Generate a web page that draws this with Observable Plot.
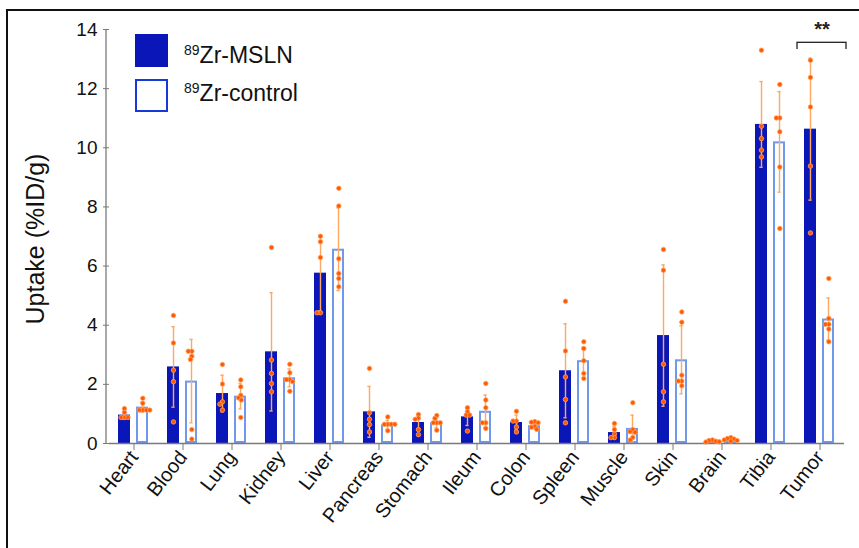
<!DOCTYPE html>
<html><head><meta charset="utf-8">
<script src="https://cdn.jsdelivr.net/npm/d3@7"></script>
<script src="https://cdn.jsdelivr.net/npm/@observablehq/plot@0.6"></script>
<style>
body{margin:0;background:#fff;font-family:"Liberation Sans",Arial,sans-serif;}
#wrap{position:relative;width:859px;height:548px;overflow:hidden;background:#fff;}
#chart{position:absolute;left:0;top:0;}
.bl{position:absolute;left:6px;top:9px;width:2px;height:560px;background:#111;}
.bt{position:absolute;left:6px;top:9px;width:870px;height:2px;background:#111;}
#ylab{position:absolute;left:35px;top:239px;transform:translate(-50%,-50%) rotate(-90deg);font-size:25px;white-space:nowrap;color:#111;}
.sw{position:absolute;left:135px;width:33px;height:33px;box-sizing:border-box;}
.lt{position:absolute;left:184px;font-size:23px;line-height:1;white-space:nowrap;color:#111;}
.lt sup{font-size:14px;vertical-align:0.55em;line-height:0;}
</style></head><body>
<div id="wrap">
  <div id="chart"></div>
  <div class="bl"></div><div class="bt"></div>
  <div id="ylab">Uptake (%ID/g)</div>
  <div class="sw" style="top:34px;background:#0a16b8;"></div>
  <div class="sw" style="top:79px;background:#fff;border:2px solid #1a38d8;"></div>
  <div class="lt" style="top:44px;"><sup>89</sup>Zr-MSLN</div>
  <div class="lt" style="top:82px;"><sup>89</sup>Zr-control</div>
</div>
<script>
// ---- data ----
const organs = ["Heart","Blood","Lung","Kidney","Liver","Pancreas","Stomach","Ileum","Colon","Spleen","Muscle","Skin","Brain","Tibia","Tumor"];
const series = ["89Zr-MSLN","89Zr-control"];
const mslnMean = [0.96, 2.59, 1.69, 3.10, 5.76, 1.07, 0.71, 0.90, 0.71, 2.46, 0.37, 3.65, 0.08, 10.79, 10.63];
const mslnSd   = [0.14, 1.36, 0.62, 2.00, 1.27, 0.86, 0.25, 0.29, 0.25, 1.59, 0.20, 2.39, 0.03, 1.45, 2.40];
const ctrlMean = [1.23, 2.11, 1.60, 2.22, 6.57, 0.63, 0.70, 1.09, 0.60, 2.80, 0.51, 2.83, 0.13, 10.20, 4.21];
const ctrlSd   = [0.17, 1.41, 0.43, 0.30, 1.40, 0.15, 0.17, 0.55, 0.10, 0.45, 0.45, 1.15, 0.04, 1.70, 0.71];
const mslnDots = [
  [1.18, 1.05, 0.88, 0.88, 0.88],
  [4.33, 3.40, 2.48, 2.09, 0.73],
  [2.67, 2.01, 1.41, 1.33, 1.13],
  [6.63, 2.82, 2.37, 2.03, 1.75],
  [7.01, 6.82, 6.29, 4.42, 4.42],
  [2.54, 1.04, 0.82, 0.64, 0.39],
  [0.98, 0.86, 0.82, 0.47, 0.30],
  [1.21, 1.07, 0.96, 0.96, 0.42],
  [1.09, 0.76, 0.76, 0.56, 0.39],
  [4.81, 3.13, 2.25, 1.49, 0.70],
  [0.68, 0.47, 0.32, 0.20, 0.20],
  [6.56, 5.86, 2.68, 1.75, 1.41],
  [0.12, 0.10, 0.08, 0.06, 0.05],
  [13.30, 10.73, 10.31, 9.92, 9.69],
  [12.96, 12.38, 11.38, 9.38, 7.12]
];
const ctrlDots = [
  [1.53, 1.36, 1.13, 1.13, 1.13, 1.13],
  [3.12, 3.12, 2.95, 2.84, 0.47, 0.15],
  [2.15, 1.92, 1.63, 1.54, 1.47, 0.88],
  [2.68, 2.39, 2.16, 2.16, 2.09, 1.77],
  [8.63, 8.03, 6.25, 5.75, 5.58, 5.30],
  [0.90, 0.65, 0.65, 0.65, 0.65, 0.43],
  [0.95, 0.85, 0.70, 0.70, 0.70, 0.45],
  [2.03, 1.47, 1.21, 0.70, 0.70, 0.51],
  [0.74, 0.72, 0.70, 0.58, 0.55, 0.48],
  [3.44, 3.21, 2.80, 2.37, 2.20],
  [1.38, 0.47, 0.40, 0.38, 0.20, 0.12],
  [4.45, 4.10, 2.31, 2.11, 2.11, 1.95],
  [0.20, 0.17, 0.15, 0.12, 0.10, 0.08],
  [12.14, 11.01, 11.01, 10.54, 9.35, 7.27],
  [5.58, 4.23, 4.03, 4.03, 3.87, 3.44]
];
const yTicks = [0, 2, 4, 6, 8, 10, 12, 14];
const sigOrgan = "Tumor";
const sigLabel = "**";
const sigBracket = [13.3, 13.55];
const sigTextY = 13.98;

// ---- tables ----
const bars = organs.flatMap((o, i) => [
  {organ: o, series: series[0], mean: mslnMean[i], sd: mslnSd[i]},
  {organ: o, series: series[1], mean: ctrlMean[i], sd: ctrlSd[i]}
]);
const dotsM = organs.flatMap((o, i) => mslnDots[i].map(v => ({organ: o, series: series[0], value: v})));
const dotsC = organs.flatMap((o, i) => ctrlDots[i].map(v => ({organ: o, series: series[1], value: v})));
const sig = [{organ: sigOrgan, lo: sigBracket[0], hi: sigBracket[1], ty: sigTextY, label: sigLabel}];

// ---- layout ----
const W = 847, H = 548, mL = 106, mR = 0, mT = 29, mB = 105;
const pIn = 0.306, pOut = 0.5;
const facetW = (W - mL - mR) / organs.length;
const step = facetW / (2 - pIn + 2 * pOut);
const off = step / 2;
const bw = step * (1 - pIn);
const capInset = (bw - 4) / 2;
// dots placed by dodgeX get an extra half-bandwidth shift from the band x scale
const dotShiftM = -off - bw / 2, dotShiftC = off - bw / 2;

const C_MSLN = "#0a16b8", C_CTRL = "#7098ec", C_ERR = "#ffa862", C_DOT = "#ff5a00", C_DOTS = "#ffa060", C_AX = "#7a7a7a";

const plot = Plot.plot({
  width: W, height: H,
  marginLeft: mL, marginRight: mR, marginTop: mT, marginBottom: mB,
  style: {fontFamily: "Liberation Sans, Arial, sans-serif", background: "transparent", overflow: "visible"},
  fx: {domain: organs, padding: 0, label: null},
  x: {domain: series, type: "band", paddingInner: pIn, paddingOuter: pOut, axis: null},
  y: {domain: [0, 14], label: null},
  marks: [
    Plot.barY(bars.filter(d => d.series === series[0]), {fx: "organ", x: "series", y: "mean", fill: C_MSLN}),
    Plot.barY(bars.filter(d => d.series === series[1]), {fx: "organ", x: "series", y: "mean", fill: "white", stroke: C_CTRL, strokeWidth: 2, inset: 1}),
    Plot.ruleY([0], {stroke: C_AX, strokeWidth: 1.3}),
    Plot.ruleX(bars, {fx: "organ", x: "series", y1: d => Math.max(0, d.mean - d.sd), y2: d => d.mean + d.sd, stroke: C_ERR, strokeWidth: 1.4}),
    Plot.tickY(bars, {fx: "organ", x: "series", y: d => d.mean + d.sd, stroke: C_ERR, strokeWidth: 1.4, insetLeft: capInset, insetRight: capInset}),
    Plot.tickY(bars, {fx: "organ", x: "series", y: d => Math.max(0, d.mean - d.sd), stroke: C_ERR, strokeWidth: 1.4, insetLeft: capInset, insetRight: capInset}),
    Plot.dot(dotsM, Plot.dodgeX({anchor: "middle", padding: 0, r: 1.75}, {fx: "organ", y: "value", r: 2.25, fill: C_DOT, stroke: C_DOTS, strokeWidth: 0.8, dx: dotShiftM})),
    Plot.dot(dotsC, Plot.dodgeX({anchor: "middle", padding: 0, r: 1.75}, {fx: "organ", y: "value", r: 2.25, fill: C_DOT, stroke: C_DOTS, strokeWidth: 0.8, dx: dotShiftC})),
    Plot.rectY(sig, {fx: "organ", y1: "lo", y2: "hi", fill: "none", stroke: "#222", strokeWidth: 1.3, insetLeft: 2, insetRight: -2}),
    Plot.ruleY(sig, {fx: "organ", y: "lo", stroke: "white", strokeWidth: 2.6, insetRight: -4}),
    Plot.text(sig, {fx: "organ", y: "ty", text: "label", fontSize: 20, fontWeight: "bold", fill: "#222", dx: 2}),
    Plot.axisY({ticks: yTicks, tickSize: 6, tickPadding: 6, fontSize: 19, stroke: C_AX, fill: "#111", label: null}),
    Plot.axisFx({anchor: "bottom", tickRotate: -52, tickSize: 7, tickPadding: 3, fontSize: 20, stroke: C_AX, fill: "#111", label: null})
  ]
});
document.getElementById("chart").appendChild(plot);
const ys = plot.scale("y");
d3.select(plot).append("line")
  .attr("x1", mL).attr("x2", mL)
  .attr("y1", ys.apply(0)).attr("y2", ys.apply(14))
  .attr("stroke", C_AX).attr("stroke-width", 1.3);
</script>
</body></html>
